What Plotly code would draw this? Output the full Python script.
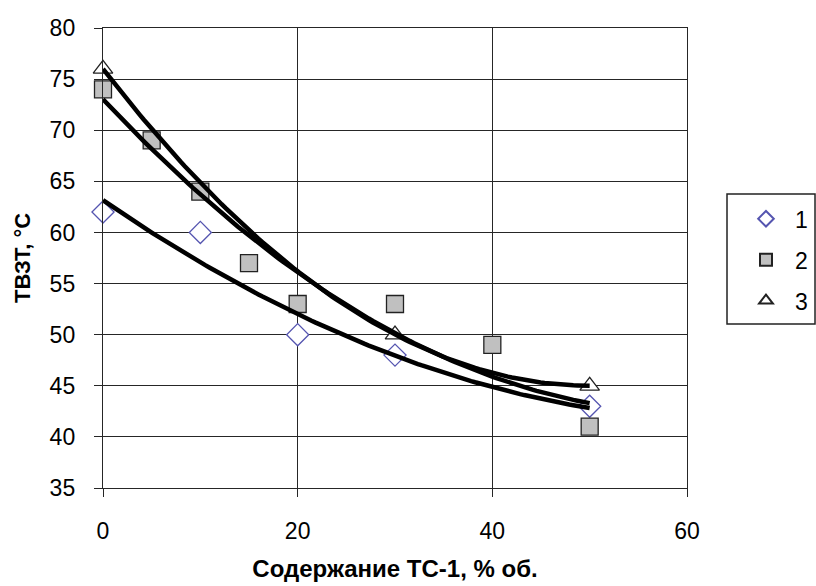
import numpy as np
import plotly.graph_objects as go

# Data
x1 = [0, 10, 20, 30, 50]
y1 = [62, 60, 50, 48, 43]
x2 = [0, 5, 10, 15, 20, 30, 40, 50]
y2 = [74, 69, 64, 57, 53, 53, 49, 41]
x3 = [0, 30, 50]
y3 = [76, 50, 45]
names = ["1", "2", "3"]
x_ticks = [0, 20, 40, 60]
y_ticks = [35, 40, 45, 50, 55, 60, 65, 70, 75, 80]

FONT = "Liberation Sans, Arial, sans-serif"

fig = go.Figure()

styles = [
    dict(symbol="diamond", size=17, color="white", line=dict(color="#5555b0", width=1.3)),
    dict(symbol="square", size=17, color="#c0c0c0", line=dict(color="#222222", width=1.3)),
    dict(symbol="triangle-up", size=17, color="white", line=dict(color="#222222", width=1.3)),
]
series = [(x1, y1), (x2, y2), (x3, y3)]

for i, ((xs, ys), st) in enumerate(zip(series, styles)):
    fig.add_trace(go.Scatter(
        x=xs, y=ys, mode="markers", name=names[i], marker=st,
        legendgroup=names[i], showlegend=True, cliponaxis=False,
    ))

# polynomial (order 2) trendlines
for i, (xs, ys) in enumerate(series):
    c = np.polyfit(xs, ys, 2)
    xx = np.linspace(min(xs), max(xs), 120)
    fig.add_trace(go.Scatter(
        x=xx, y=np.polyval(c, xx), mode="lines", cliponaxis=False,
        line=dict(color="black", width=4.5), showlegend=False, hoverinfo="skip",
    ))

axis_common = dict(
    showgrid=True, gridcolor="#262626", gridwidth=1.4,
    showline=True, linecolor="#262626", linewidth=1.4, mirror=True,
    ticks="outside", ticklen=8, tickcolor="#262626", tickwidth=1.4,
    zeroline=False, automargin=False,
    tickfont=dict(family=FONT, size=23, color="black"),
)

fig.update_xaxes(
    range=[0, 60], tickvals=x_ticks, ticklabelstandoff=14, **axis_common,
    title=dict(text="<b>Содержание ТС-1, % об.</b>", standoff=17,
               font=dict(family=FONT, size=24, color="black")),
)
fig.update_yaxes(
    range=[35, 80], tickvals=y_ticks, ticklabelstandoff=14, **axis_common,
    title=dict(text="<b>ТВЗТ, °С</b>", standoff=12,
               font=dict(family=FONT, size=22, color="black")),
)

# legend frame
fig.add_shape(type="rect", xref="paper", yref="paper",
              x0=1.0685, x1=1.2192, y0=0.3565, y1=0.6391,
              line=dict(color="#222222", width=1.5), fillcolor="white", layer="below")

fig.update_layout(
    width=816, height=586,
    margin=dict(l=103, r=129, t=28, b=98, autoexpand=False),
    plot_bgcolor="white", paper_bgcolor="white",
    legend=dict(
        x=1.0856, y=0.632, xanchor="left", yanchor="top",
        borderwidth=0, bgcolor="rgba(0,0,0,0)",
        font=dict(family=FONT, size=23, color="black"),
        tracegroupgap=8, itemwidth=48, itemsizing="constant",
    ),
    showlegend=True,
)

fig.write_html("out.html")
